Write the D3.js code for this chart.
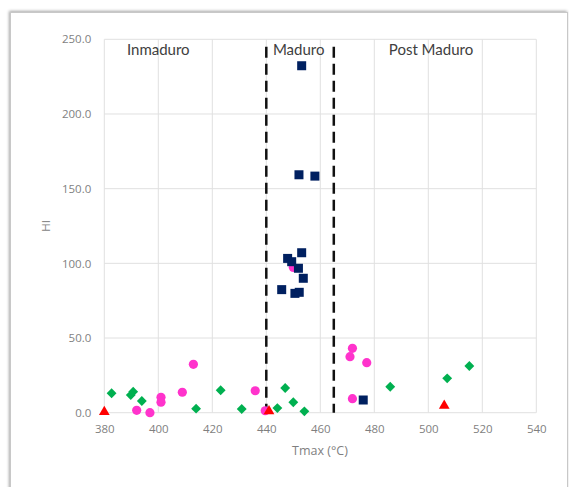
<!DOCTYPE html>
<html>
<head>
<meta charset="utf-8">
<script src="https://cdn.jsdelivr.net/npm/d3@7"></script>
<style>
  html, body { margin: 0; padding: 0; background: #fff; }
  svg { display: block; }
</style>
</head>
<body>
<svg id="chart" width="569" height="487"></svg>
<script>
// ---- Data (Tmax °C, HI) ----
const xTicks = [380, 400, 420, 440, 460, 480, 500, 520, 540];
const yTicks = [0, 50, 100, 150, 200, 250];
const zoneBounds = [440, 465];
const zoneLabels = ["Inmaduro", "Maduro", "Post Maduro"];
const zoneLabelX = [400, 452, 501];

const pinkTmax = [392.0, 396.9, 401.0, 401.0, 408.9, 413.0, 435.9, 439.6, 450.0, 471.9, 471.0, 477.2, 471.9];
const pinkHI   = [1.6, 0.0, 10.3, 7.0, 13.7, 32.4, 14.7, 1.3, 97.3, 43.1, 37.5, 33.5, 9.4];

const greenTmax = [382.7, 389.8, 390.7, 393.9, 414.0, 423.1, 430.9, 444.1, 447.0, 450.0, 454.1, 485.9, 507.0, 515.2];
const greenHI   = [13.0, 11.8, 14.1, 7.8, 2.7, 15.0, 2.5, 3.1, 16.5, 7.0, 0.9, 17.4, 23.0, 31.3];

const navyTmax = [453.1, 452.1, 458.0, 453.1, 447.9, 449.4, 451.9, 453.7, 445.7, 450.6, 452.2, 475.9];
const navyHI   = [232.3, 159.3, 158.4, 107.1, 103.3, 101.1, 96.7, 90.0, 82.4, 79.9, 80.6, 8.5];

const redTmax = [380.0, 441.0, 505.9];
const redHI   = [0.5, 1.0, 4.7];

// ---- Layout ----
const svg = d3.select("#chart");
const W = 569, H = 487;
const plot = { left: 104.3, right: 536.3, top: 39.3, bottom: 412.7 };

const x = d3.scaleLinear().domain([380, 540]).range([plot.left, plot.right]);
const y = d3.scaleLinear().domain([0, 250]).range([plot.bottom, plot.top]);

// frame with soft shadow
const defs = svg.append("defs");
const f = defs.append("filter").attr("id", "shadow").attr("x", "-5%").attr("y", "-5%").attr("width", "110%").attr("height", "110%");
f.append("feDropShadow").attr("dx", -1).attr("dy", -1).attr("stdDeviation", 1.5).attr("flood-color", "#000").attr("flood-opacity", 0.35);

svg.append("rect").attr("width", W).attr("height", H).attr("fill", "#fff");
svg.append("rect")
  .attr("x", 10.5).attr("y", 12.5).attr("width", 557).attr("height", 490)
  .attr("fill", "#fff").attr("stroke", "#c8c8c8").attr("stroke-width", 1)
  .attr("filter", "url(#shadow)");

// grid
const grid = svg.append("g");
grid.selectAll(".vg").data(xTicks).join("line")
  .attr("x1", d => x(d)).attr("x2", d => x(d))
  .attr("y1", plot.top).attr("y2", plot.bottom)
  .attr("stroke", "#e0e0e0").attr("stroke-width", 1);
grid.selectAll(".hg").data(yTicks).join("line")
  .attr("x1", plot.left).attr("x2", plot.right)
  .attr("y1", d => y(d)).attr("y2", d => y(d))
  .attr("stroke", "#e0e0e0").attr("stroke-width", 1);

// axes (labels only)
const tickFont = "Open Sans, Lato, sans-serif";
const xAxis = d3.axisBottom(x).tickValues(xTicks).tickSize(0).tickPadding(12).tickFormat(d3.format("d"));
const gx = svg.append("g").attr("transform", `translate(0,${plot.bottom})`).call(xAxis);
gx.select(".domain").remove();
gx.selectAll("text").attr("fill", "#7f7f7f").style("font-family", tickFont).style("font-size", "11.5px");

const yAxis = d3.axisLeft(y).tickValues(yTicks).tickSize(0).tickPadding(13).tickFormat(d3.format(".1f"));
const gy = svg.append("g").attr("transform", `translate(${plot.left},0)`).call(yAxis);
gy.select(".domain").remove();
gy.selectAll("text").attr("fill", "#7f7f7f").style("font-family", tickFont).style("font-size", "11.5px");

// axis titles
svg.append("text").attr("x", 320).attr("y", 455).attr("text-anchor", "middle")
  .attr("fill", "#7f7f7f").style("font-family", tickFont).style("font-size", "12.5px").text("Tmax (°C)");
svg.append("text").attr("transform", "translate(50,226) rotate(-90)").attr("text-anchor", "middle")
  .attr("fill", "#7f7f7f").style("font-family", tickFont).style("font-size", "11.5px").text("HI");

// zone dashed lines
svg.selectAll(".zone").data(zoneBounds).join("line")
  .attr("x1", d => x(d)).attr("x2", d => x(d))
  .attr("y1", y(245)).attr("y2", y(0))
  .attr("stroke", "#111").attr("stroke-width", 2.5).attr("stroke-dasharray", "11,6");

// zone labels
svg.selectAll(".zl").data(zoneLabels).join("text")
  .attr("x", (d, i) => x(zoneLabelX[i])).attr("y", 55)
  .attr("text-anchor", "middle").attr("fill", "#404040")
  .style("font-family", "Lato, Open Sans, sans-serif").style("font-size", "15px")
  .text(d => d);

// series
const pink = pinkTmax.map((t, i) => [t, pinkHI[i]]);
const green = greenTmax.map((t, i) => [t, greenHI[i]]);
const navy = navyTmax.map((t, i) => [t, navyHI[i]]);
const red = redTmax.map((t, i) => [t, redHI[i]]);

svg.append("g").selectAll("circle").data(pink).join("circle")
  .attr("cx", d => x(d[0])).attr("cy", d => y(d[1])).attr("r", 4.6).attr("fill", "#ff33cc");

svg.append("g").selectAll("path").data(green).join("path")
  .attr("d", d3.symbol().type(d3.symbolDiamond2).size(62))
  .attr("transform", d => `translate(${x(d[0])},${y(d[1])})`).attr("fill", "#00b050");

svg.append("g").selectAll("rect").data(navy).join("rect")
  .attr("x", d => x(d[0]) - 4.5).attr("y", d => y(d[1]) - 4.5)
  .attr("width", 9).attr("height", 9).attr("fill", "#002060");

svg.append("g").selectAll("path").data(red).join("path")
  .attr("d", d3.symbol().type(d3.symbolTriangle).size(50))
  .attr("transform", d => `translate(${x(d[0])},${y(d[1])})`).attr("fill", "#ff0000");
</script>
</body>
</html>
